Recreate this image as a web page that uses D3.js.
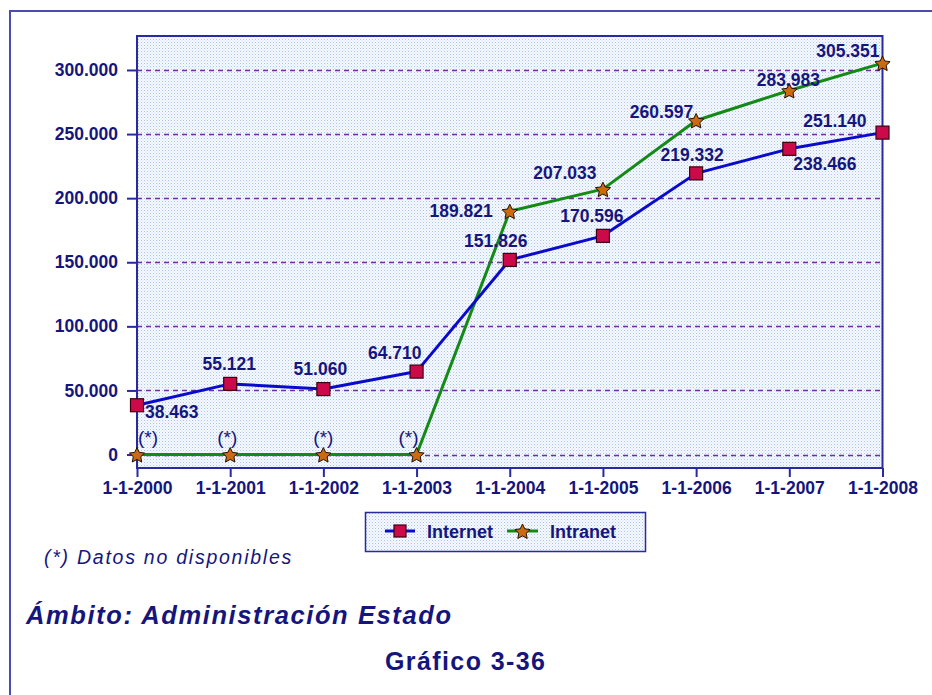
<!DOCTYPE html>
<html>
<head>
<meta charset="utf-8">
<script src="https://cdn.jsdelivr.net/npm/d3@7"></script>
<style>
  html, body { margin: 0; padding: 0; background: #ffffff; }
  svg { display: block; font-family: "Liberation Sans", Arial, sans-serif; }
</style>
</head>
<body>
<svg id="chart" width="932" height="695"></svg>
<script>
// Years shown on the horizontal axis
const categories = ["1-1-2000", "1-1-2001", "1-1-2002", "1-1-2003", "1-1-2004",
                    "1-1-2005", "1-1-2006", "1-1-2007", "1-1-2008"];
// Internet series
const internetValues = [38463, 55121, 51060, 64710, 151826, 170596, 219332, 238466, 251140];
// Intranet series (first four years: no data available, plotted on the zero line)
const intranetValues = [0, 0, 0, 0, 189821, 207033, 260597, 283983, 305351];
const intranetAvailable = [false, false, false, false, true, true, true, true, true];
// Y axis ticks
const yTicks = [0, 50000, 100000, 150000, 200000, 250000, 300000];
const seriesNames = ["Internet", "Intranet"];

// Where each value label sits relative to its point: [anchor, dx, dy]
const internetLabelPos = [
  ["start", 8, 13], ["middle", -1, -14], ["middle", -3, -14], ["end", 5, -13],
  ["middle", -14, -13], ["middle", -11, -14], ["middle", -4, -12],
  ["start", 4, 21], ["end", -16, -6]
];
const intranetLabelPos = [
  ["middle", 11, -11], ["middle", -3, -11], ["middle", 0, -11], ["middle", -8, -11],
  ["end", -17, 6], ["middle", -38, -10], ["end", -3, -2],
  ["middle", -1, -5], ["end", -3, -6]
];

const NAVY = "#15157d";
const BLUE = "#0a0acc";
const GREEN = "#138a13";
const SQUARE_FILL = "#cc0a4a";
const STAR_FILL = "#cc6a10";

const es = d3.formatLocale({ decimal: ",", thousands: ".", grouping: [3], currency: ["", " €"] });
const fmt = es.format(",d");

const svg = d3.select("#chart");

// Dotted light-blue fill used by the plot area and legend
const defs = svg.append("defs");
const pat = defs.append("pattern")
  .attr("id", "dots").attr("patternUnits", "userSpaceOnUse")
  .attr("width", 3).attr("height", 3);
pat.append("rect").attr("width", 3).attr("height", 3).attr("fill", "#f6f9fe");
pat.append("rect").attr("x", 0).attr("y", 0).attr("width", 1).attr("height", 1).attr("fill", "#a9c3ee");
pat.append("rect").attr("x", 1.5).attr("y", 1.5).attr("width", 1).attr("height", 1).attr("fill", "#cddcf6");

// Outer frame
svg.append("rect")
  .attr("x", 10).attr("y", 11).attr("width", 940).attr("height", 700)
  .attr("fill", "none").attr("stroke", "#4b4bb0").attr("stroke-width", 2);

const plot = { left: 137, right: 882.5, top: 36, bottom: 468 };

const x = d3.scalePoint().domain(categories).range([plot.left, plot.right]);
const y = d3.scaleLinear().domain([-10500, 326500]).range([plot.bottom, plot.top]);

// Plot background
svg.append("rect")
  .attr("x", plot.left).attr("y", plot.top)
  .attr("width", plot.right - plot.left).attr("height", plot.bottom - plot.top)
  .attr("fill", "url(#dots)");

// Dashed horizontal grid
svg.append("g").selectAll("line").data(yTicks).join("line")
  .attr("x1", plot.left).attr("x2", plot.right)
  .attr("y1", d => Math.round(y(d)) + 0.5).attr("y2", d => Math.round(y(d)) + 0.5)
  .attr("stroke", "#6e2e9e").attr("stroke-width", 1.3)
  .attr("stroke-dasharray", "5,4");

// Plot border
svg.append("rect")
  .attr("x", plot.left).attr("y", plot.top)
  .attr("width", plot.right - plot.left).attr("height", plot.bottom - plot.top)
  .attr("fill", "none").attr("stroke", "#2a2aa0").attr("stroke-width", 2);

// Y axis
const yAxis = svg.append("g")
  .attr("transform", `translate(${plot.left},0)`)
  .call(d3.axisLeft(y).tickValues(yTicks).tickSize(10).tickPadding(9).tickFormat(fmt));
yAxis.select(".domain").remove();
yAxis.selectAll(".tick line").attr("stroke", "#2a2aa0").attr("stroke-width", 2);
yAxis.selectAll(".tick text")
  .attr("fill", NAVY).attr("font-size", 17.5).attr("font-weight", "bold")
  .attr("font-family", "Liberation Sans, Arial, sans-serif");

// X axis
const xAxis = svg.append("g")
  .attr("transform", `translate(0,${plot.bottom})`)
  .call(d3.axisBottom(x).tickSize(9).tickPadding(5));
xAxis.select(".domain").remove();
xAxis.selectAll(".tick line").attr("stroke", "#2a2aa0").attr("stroke-width", 2);
xAxis.selectAll(".tick text")
  .attr("fill", NAVY).attr("font-size", 17.5).attr("font-weight", "bold")
  .attr("font-family", "Liberation Sans, Arial, sans-serif");

// Marker shapes: a plump five-pointed star and a square
const starPoints = d3.range(10).map(k => [k * Math.PI / 5, k % 2 ? 3.9 : 8]);
const starPath = d3.lineRadial().angle(d => d[0]).radius(d => d[1])
  .curve(d3.curveLinearClosed)(starPoints);
const squareSize = 13;

function drawSeries(values, color) {
  const line = d3.line().x((d, i) => x(categories[i])).y(d => y(d));
  svg.append("path").datum(values)
    .attr("d", line).attr("fill", "none")
    .attr("stroke", color).attr("stroke-width", 3).attr("stroke-linejoin", "round");
}

drawSeries(intranetValues, GREEN);
drawSeries(internetValues, BLUE);

// Markers
svg.append("g").selectAll("rect").data(internetValues).join("rect")
  .attr("x", (d, i) => x(categories[i]) - squareSize / 2)
  .attr("y", d => y(d) - squareSize / 2)
  .attr("width", squareSize).attr("height", squareSize)
  .attr("fill", SQUARE_FILL).attr("stroke", "#3a0010").attr("stroke-width", 1.2);

svg.append("g").selectAll("path").data(intranetValues).join("path")
  .attr("d", starPath)
  .attr("transform", (d, i) => `translate(${x(categories[i])},${y(d) + 1})`)
  .attr("fill", STAR_FILL).attr("stroke", "#201000").attr("stroke-width", 1);

// Value labels
function drawLabels(values, pos, textFn, weight, size) {
  svg.append("g").selectAll("text").data(values).join("text")
    .attr("x", (d, i) => x(categories[i]) + pos[i][1])
    .attr("y", (d, i) => y(d) + pos[i][2])
    .attr("text-anchor", (d, i) => pos[i][0])
    .attr("fill", NAVY).attr("font-size", (d, i) => size(i))
    .attr("font-weight", (d, i) => weight(i))
    .text((d, i) => textFn(d, i));
}
drawLabels(internetValues, internetLabelPos, d => fmt(d), () => "bold", () => 17.5);
drawLabels(intranetValues, intranetLabelPos,
  (d, i) => intranetAvailable[i] ? fmt(d) : "(*)",
  i => intranetAvailable[i] ? "bold" : "normal",
  i => intranetAvailable[i] ? 17.5 : 19);

// Legend
const legend = svg.append("g");
legend.append("rect")
  .attr("x", 365.5).attr("y", 512.5).attr("width", 280).attr("height", 39)
  .attr("fill", "url(#dots)").attr("stroke", "#2a2aa0").attr("stroke-width", 1.5);
const legendItems = [
  { name: seriesNames[0], color: BLUE, x0: 385, x1: 415, tx: 427, marker: "square" },
  { name: seriesNames[1], color: GREEN, x0: 507, x1: 538, tx: 550, marker: "star" }
];
legendItems.forEach(it => {
  legend.append("line")
    .attr("x1", it.x0).attr("x2", it.x1).attr("y1", 531).attr("y2", 531)
    .attr("stroke", it.color).attr("stroke-width", 3);
  const cx = (it.x0 + it.x1) / 2;
  if (it.marker === "square") {
    legend.append("rect")
      .attr("x", cx - 6).attr("y", 525).attr("width", 12).attr("height", 12)
      .attr("fill", SQUARE_FILL).attr("stroke", "#3a0010").attr("stroke-width", 1.2);
  } else {
    legend.append("path").attr("d", starPath)
      .attr("transform", `translate(${cx},532)`)
      .attr("fill", STAR_FILL).attr("stroke", "#201000").attr("stroke-width", 1);
  }
  legend.append("text")
    .attr("x", it.tx).attr("y", 537.5)
    .attr("fill", NAVY).attr("font-size", 18).attr("font-weight", "bold")
    .text(it.name);
});

// Footnote and titles
svg.append("text")
  .attr("x", 44).attr("y", 564)
  .attr("fill", NAVY).attr("font-size", 19.5).attr("font-style", "italic")
  .attr("letter-spacing", 1.75)
  .text("(*) Datos no disponibles");

svg.append("text")
  .attr("x", 26).attr("y", 624)
  .attr("fill", NAVY).attr("font-size", 25.5).attr("font-style", "italic").attr("font-weight", "bold")
  .attr("letter-spacing", 1.6)
  .text("Ámbito: Administración Estado");

svg.append("text")
  .attr("x", 385).attr("y", 670)
  .attr("fill", NAVY).attr("font-size", 25).attr("font-weight", "bold")
  .attr("letter-spacing", 1.4)
  .text("Gráfico 3-36");
</script>
</body>
</html>
